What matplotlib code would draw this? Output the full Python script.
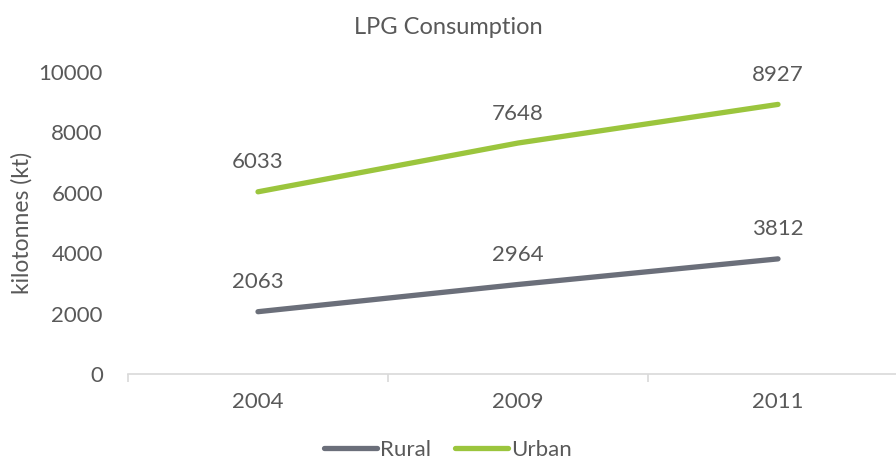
import matplotlib
matplotlib.use("Agg")
import matplotlib.pyplot as plt

categories = ["2004", "2009", "2011"]
rural = [2063, 2964, 3812]
urban = [6033, 7648, 8927]
yticks = [0, 2000, 4000, 6000, 8000, 10000]

plt.rcParams['font.family'] = ['Lato', 'DejaVu Sans']
txt = '#595959'
fs = 16

fig = plt.figure(figsize=(8.96, 4.59), dpi=100)
ax = fig.add_axes([128/896, 85/459, 780/896, 302/459])
x = list(range(len(categories)))
ax.plot(x, rural, color='#6b6f7a', lw=3.8, solid_capstyle='round', label='Rural')
ax.plot(x, urban, color='#9bc53d', lw=3.8, solid_capstyle='round', label='Urban')
for series in (rural, urban):
    for xi, v in zip(x, series):
        ax.annotate(str(v), (xi, v), xytext=(0, 14), textcoords='offset points',
                    ha='center', va='bottom', fontsize=fs, color=txt)

ax.set_xlim(-0.5, 2.5)
ax.set_ylim(0, 10000)
ax.set_yticks(yticks)
ax.set_yticklabels([str(t) for t in yticks])
ax.set_xticks(x)
ax.set_xticklabels(categories)
ax.set_xticks([-0.5, 0.5, 1.5, 2.5], minor=True)
ax.tick_params(axis='x', which='major', length=0, pad=13, labelsize=fs, labelcolor=txt)
ax.tick_params(axis='x', which='minor', length=6, color='#d9d9d9', width=1.2)
ax.tick_params(axis='y', length=0, pad=18, labelsize=fs, labelcolor=txt)
for s in ['top', 'right', 'left']:
    ax.spines[s].set_visible(False)
ax.spines['bottom'].set_color('#d9d9d9')
ax.spines['bottom'].set_linewidth(1.2)
ax.set_ylabel('kilotonnes (kt)', fontsize=16.5, color=txt)
ax.yaxis.set_label_coords((33 - 128) / 780, 0.5)
fig.text(0.5, 1 - 27/459, 'LPG Consumption', ha='center', va='center', fontsize=17, color=txt)
fig.legend(loc='center', bbox_to_anchor=(0.5, 1 - 450/459), ncol=2, frameon=False,
           fontsize=fs, labelcolor=txt, handlelength=2.35, handletextpad=0.15, columnspacing=1.1)
fig.savefig('out.png', dpi=100)
